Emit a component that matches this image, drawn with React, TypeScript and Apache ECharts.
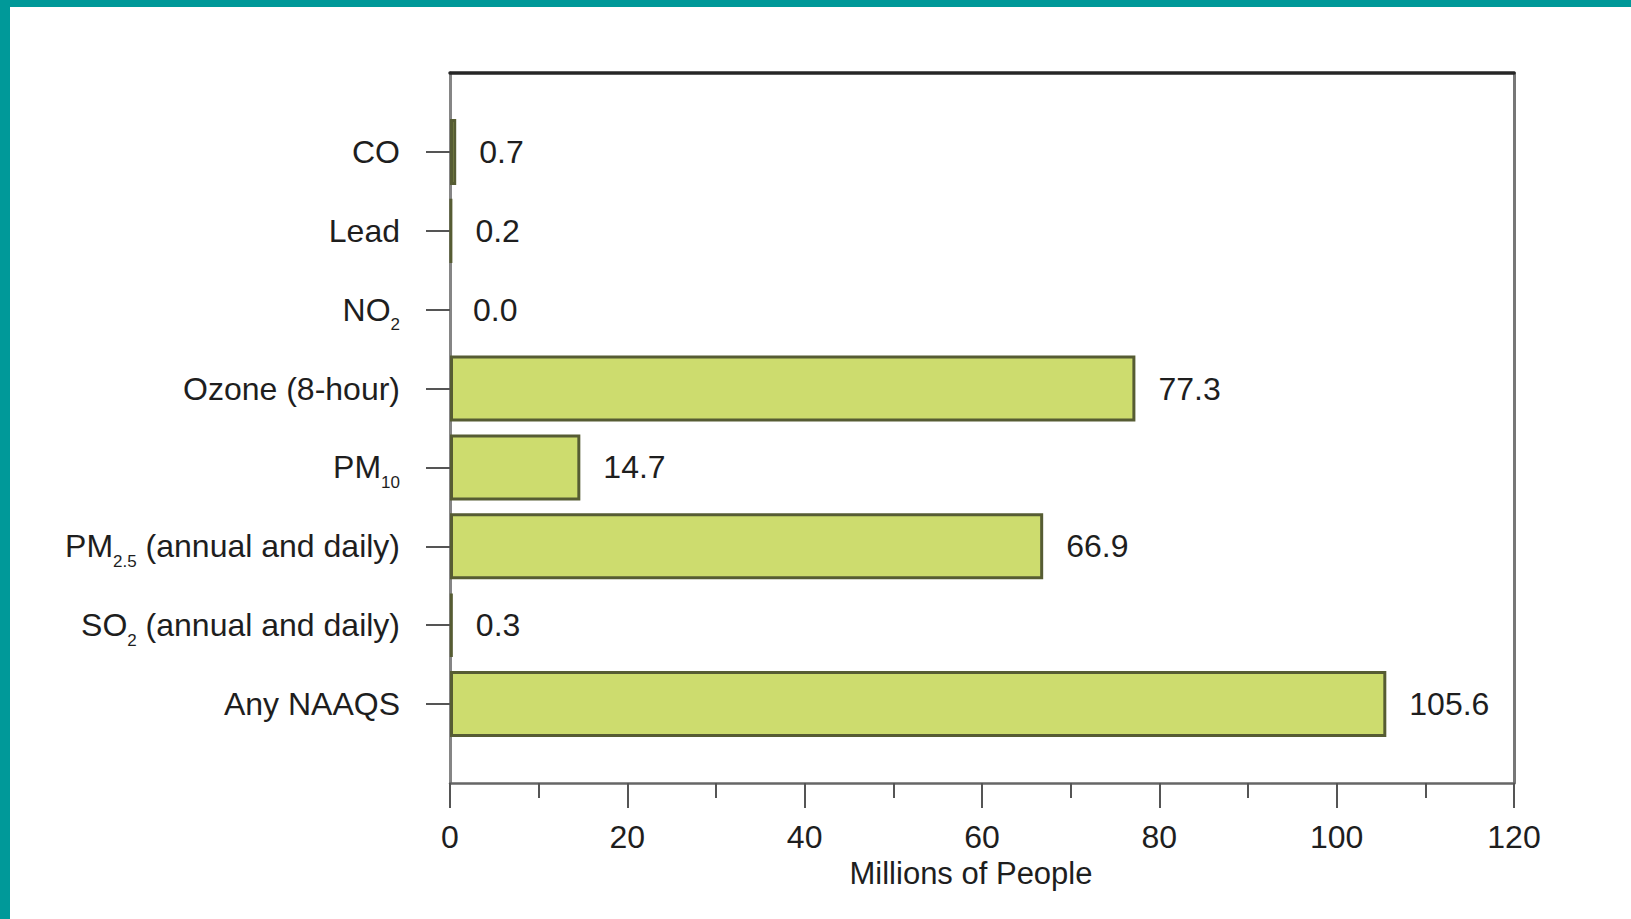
import React, { useEffect, useRef } from "react";
import * as echarts from "echarts";

const categories = [
  "CO",
  "Lead",
  "NO2",
  "Ozone (8-hour)",
  "PM10",
  "PM2.5 (annual and daily)",
  "SO2 (annual and daily)",
  "Any NAAQS",
];
const values = [0.7, 0.2, 0.0, 77.3, 14.7, 66.9, 0.3, 105.6];
const xMin = 0;
const xMax = 120;
const xInterval = 20;
const xName = "Millions of People";

const subscriptLabels: Record<string, string> = {
  NO2: "NO{s|2}",
  PM10: "PM{s|10}",
  "PM2.5 (annual and daily)": "PM{s|2.5} (annual and daily)",
  "SO2 (annual and daily)": "SO{s|2} (annual and daily)",
};

const FONT = "'Liberation Sans', Arial, Helvetica, sans-serif";
const TEXT = "#1e1e1e";

export default function App() {
  const ref = useRef<HTMLDivElement>(null);
  useEffect(() => {
    document.body.style.margin = "0";
    if (!ref.current) return;
    const chart = echarts.init(ref.current, null, { renderer: "svg" });
    // padded category list: empty slot above and below
    const axisCats = ["", ...categories, " "];
    const seriesData: any[] = ["-"];
    values.forEach((v) => {
      seriesData.push(v === 0 ? { value: v, itemStyle: { borderWidth: 0 } } : { value: v });
    });
    seriesData.push("-");

    chart.setOption({
      animation: false,
      backgroundColor: "#ffffff",
      textStyle: { fontFamily: FONT },
      graphic: [
        { type: "rect", shape: { x: 0, y: 0, width: 1631, height: 7 }, style: { fill: "#009999" }, silent: true },
        { type: "rect", shape: { x: 0, y: 0, width: 10, height: 919 }, style: { fill: "#009999" }, silent: true },
      ],
      grid: { left: 450, top: 73, right: 117, bottom: 136, containLabel: false },
      xAxis: [
        {
          type: "value",
          position: "bottom",
          min: xMin,
          max: xMax,
          interval: xInterval,
          name: xName,
          nameLocation: "middle",
          nameGap: 74,
          nameTextStyle: { fontSize: 31, color: TEXT, fontFamily: FONT, padding: [0, 22, 0, 0] },
          axisLine: { show: true, onZero: false, lineStyle: { color: "#666666", width: 2.5 } },
          axisTick: { show: true, inside: false, length: 25, lineStyle: { color: "#555555", width: 2 } },
          minorTick: { show: true, splitNumber: 2, length: 15, lineStyle: { color: "#555555", width: 2 } },
          axisLabel: { fontSize: 32, color: TEXT, fontFamily: FONT, margin: 38 },
          splitLine: { show: false },
          minorSplitLine: { show: false },
        },
        {
          type: "value",
          position: "top",
          min: xMin,
          max: xMax,
          interval: xInterval,
          axisLine: { show: true, onZero: false, lineStyle: { color: "#262626", width: 3.5 } },
          axisTick: { show: false },
          axisLabel: { show: false },
          splitLine: { show: false },
        },
      ],
      yAxis: [
        {
          type: "category",
          position: "left",
          data: axisCats,
          inverse: true,
          boundaryGap: false,
          axisLine: { show: true, onZero: false, lineStyle: { color: "#858585", width: 3 } },
          axisTick: {
            show: true,
            length: 24,
            interval: (_i: number, v: string) => v.trim() !== "",
            lineStyle: { color: "#555555", width: 2 },
          },
          axisLabel: {
            interval: (_i: number, v: string) => v.trim() !== "",
            fontSize: 32,
            lineHeight: 32,
            color: TEXT,
            fontFamily: FONT,
            margin: 50,
            formatter: (v: string) => subscriptLabels[v] ?? v,
            rich: {
              s: {
                fontSize: 17,
                lineHeight: 17,
                padding: [30, 0, 0, 0],
                color: TEXT,
                fontFamily: FONT,
              },
            },
          },
          splitLine: { show: false },
        },
        {
          type: "category",
          position: "right",
          data: axisCats,
          inverse: true,
          boundaryGap: false,
          axisLine: { show: true, onZero: false, lineStyle: { color: "#777777", width: 3 } },
          axisTick: { show: false },
          axisLabel: { show: false },
          splitLine: { show: false },
        },
      ],
      series: [
        {
          type: "bar",
          xAxisIndex: 0,
          yAxisIndex: 0,
          data: seriesData,
          barWidth: 66,
          itemStyle: { color: "#cddc6e", borderColor: "#565c33", borderWidth: 3 },
          label: {
            show: true,
            position: "right",
            distance: 23,
            fontSize: 32,
            color: TEXT,
            fontFamily: FONT,
            formatter: (p: any) => (typeof p.value === "number" ? p.value.toFixed(1) : ""),
          },
        },
      ],
    });
    return () => chart.dispose();
  }, []);
  return <div ref={ref} style={{ width: 1631, height: 919 }} />;
}
